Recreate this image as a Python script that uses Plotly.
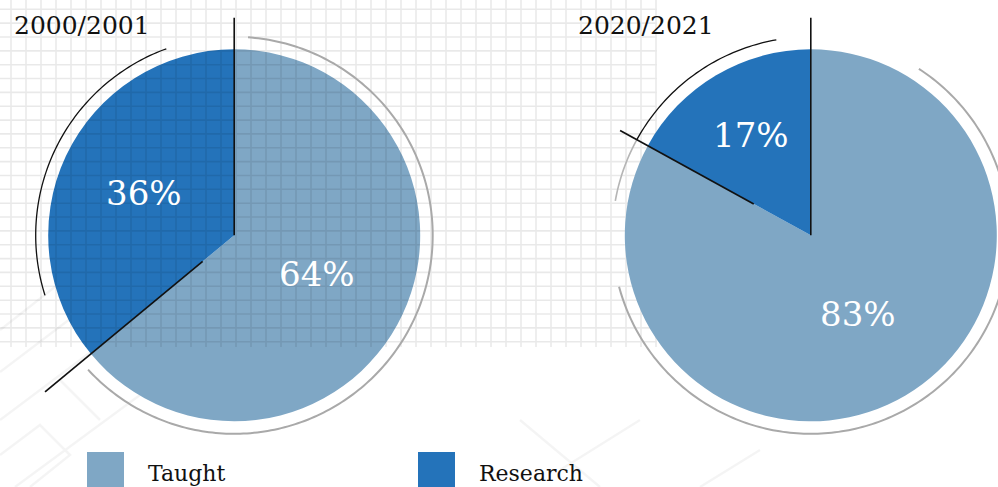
import math
import plotly.graph_objects as go

W, H = 998, 487

# ---- data -------------------------------------------------------------
years = ["2000/2001", "2020/2021"]
labels = ["Taught", "Research"]
taught_pct = [64, 83]
research_pct = [36, 17]

# ---- styling ----------------------------------------------------------
slice_colors = ["#7fa7c5", "#2473ba"]
serif = "DejaVu Serif"

centers = [(234.2, 235.3), (810.8, 235.3)]   # pie centres in pixels
R = 186.0                                    # pie radius in pixels
RING_R = 198.5                               # decorative outer ring
label_r = [[0.49, 0.535], [0.494, 0.628]]    # label distance (fraction of R)

fig = go.Figure()


def pt(cx, cy, r, deg):
    """Point at angle deg (clockwise from 12 o'clock) and radius r."""
    a = math.radians(deg)
    return cx + r * math.sin(a), cy - r * math.cos(a)


def arc_path(cx, cy, r, a0, a1, step=1.0):
    n = max(2, int(abs(a1 - a0) / step) + 1)
    pts = [pt(cx, cy, r, a0 + (a1 - a0) * k / (n - 1)) for k in range(n)]
    return "M" + " L".join(f"{x:.2f},{y:.2f}" for x, y in pts)


shapes = []
annotations = []

# faint map-like strokes in the lower-left background
faint = [
    "M0,330 L70,275", "M0,372 L95,300", "M0,420 L120,330", "M15,487 L140,395",
    "M0,455 L40,425 L70,455 L30,487", "M60,380 L100,420", "M95,300 L130,340",
    "M520,420 L600,487", "M560,470 L640,420", "M700,487 L760,450",
]
shapes.append(dict(type="path", xref="x", yref="y", path=" ".join(faint),
                   line=dict(color="rgba(0,0,0,0.045)", width=2.5), layer="below"))

# background grid: left part drawn over the first pie, the rest sits beneath
GRID_X1, GRID_Y1, SPLIT = 657, 347, 470
gx, gy = 11.0, 9.3


def grid_path(xa, xb):
    p = []
    x = gx
    while x <= GRID_X1:
        if xa <= x < xb:
            p.append(f"M{x:.1f},0 L{x:.1f},{GRID_Y1}")
        x += 15.0
    y = gy
    while y <= GRID_Y1:
        p.append(f"M{xa},{y:.1f} L{xb},{y:.1f}")
        y += 13.85
    return " ".join(p)


shapes.append(dict(type="path", xref="x", yref="y", path=grid_path(0, SPLIT),
                   line=dict(color="rgba(0,0,0,0.085)", width=1.6), layer="above"))
shapes.append(dict(type="path", xref="x", yref="y", path=grid_path(SPLIT, GRID_X1),
                   line=dict(color="rgba(0,0,0,0.085)", width=1.6), layer="below"))

for i, (cx, cy) in enumerate(centers):
    vals = [taught_pct[i], research_pct[i]]
    total = sum(vals)
    fig.add_trace(go.Pie(
        labels=labels, values=vals, sort=False, direction="clockwise", rotation=0,
        marker=dict(colors=slice_colors, line=dict(width=0)),
        textinfo="none", hoverinfo="label+percent", showlegend=False,
        domain=dict(x=[(cx - R) / W, (cx + R) / W],
                    y=[(H - cy - R) / H, (H - cy + R) / H]),
    ))

    b = 360.0 * vals[0] / total            # Taught / Research boundary angle

    # outer ring: grey along Taught, black along Research
    if i == 0:
        ring = [(4, b - 3, "#a9a9a9", 2.0), (b + 22, 340, "#111111", 1.3)]
    else:
        ring = [(33, 255, "#a9a9a9", 2.0), (280, b, "#b5b5b5", 1.6),
                (b, 350, "#111111", 1.3)]
    for a0, a1, col, w in ring:
        shapes.append(dict(type="path", xref="x", yref="y",
                           path=arc_path(cx, cy, RING_R, a0, a1),
                           line=dict(color=col, width=w), layer="above"))

    # radial edge lines
    top0 = pt(cx, cy, 0.0, 0)
    top1 = pt(cx, cy, 1.17 * R, 0)
    shapes.append(dict(type="line", xref="x", yref="y",
                       x0=top0[0], y0=top0[1], x1=top1[0], y1=top1[1],
                       line=dict(color="#111111", width=1.6), layer="above"))
    r0, r1 = (0.22 * R, 1.32 * R) if i == 0 else (0.35 * R, 1.17 * R)
    e0 = pt(cx, cy, r0, b)
    e1 = pt(cx, cy, r1, b)
    shapes.append(dict(type="line", xref="x", yref="y",
                       x0=e0[0], y0=e0[1], x1=e1[0], y1=e1[1],
                       line=dict(color="#111111", width=1.7), layer="above"))

    # percentage labels at each slice's mid angle
    start = 0.0
    for j, v in enumerate(vals):
        span = 360.0 * v / total
        mid = start + span / 2
        lx, ly = pt(cx, cy, label_r[i][j] * R, mid)
        annotations.append(dict(x=lx, y=ly, xref="x", yref="y", text=f"{v}%",
                                showarrow=False, xanchor="center", yanchor="middle",
                                font=dict(family=serif, size=34, color="white")))
        start += span

    # year title
    annotations.append(dict(x=[12, 576][i], y=25, xref="x", yref="y", text=years[i],
                            showarrow=False, xanchor="left", yanchor="middle",
                            font=dict(family=serif, size=25, color="#111111")))

# legend
legend_x = [87, 418]
for k, lab in enumerate(labels):
    x0 = legend_x[k]
    shapes.append(dict(type="rect", xref="x", yref="y", x0=x0, x1=x0 + 37,
                       y0=452, y1=489, fillcolor=slice_colors[k], line=dict(width=0)))
    annotations.append(dict(x=x0 + 59, y=473, xref="x", yref="y", text=lab,
                            showarrow=False, xanchor="left", yanchor="middle",
                            font=dict(family=serif, size=22, color="#111111")))

fig.update_layout(
    width=W, height=H,
    margin=dict(l=0, r=0, t=0, b=0),
    paper_bgcolor="white", plot_bgcolor="rgba(0,0,0,0)",
    xaxis=dict(range=[0, W], visible=False, fixedrange=True, domain=[0, 1]),
    yaxis=dict(range=[H, 0], visible=False, fixedrange=True, domain=[0, 1]),
    shapes=shapes, annotations=annotations,
    showlegend=False,
)

fig.write_html("out.html")
